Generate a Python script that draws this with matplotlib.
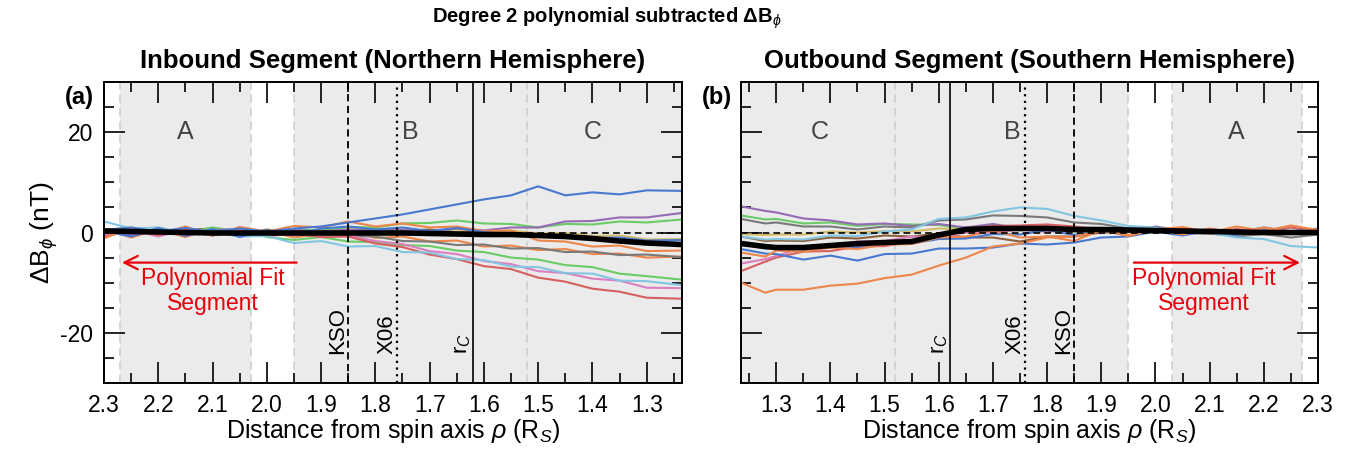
"""Degree 2 polynomial subtracted dB_phi, inbound and outbound segments."""

import matplotlib

matplotlib.use("Agg")

import matplotlib.pyplot as plt
from matplotlib.ticker import MultipleLocator


# seaborn "muted" colours used for the individual orbits
BLUE = "#4878d0"
ORANGE = "#ee854a"
GREEN = "#6acc64"
RED = "#d65f5f"
PURPLE = "#956cb4"
BROWN = "#8c613c"
PINK = "#dc7ec0"
GRAY = "#797979"
GOLD = "#d5bb67"
LIGHTBLUE = "#82c6e2"

# ---- inbound segment (panel a) ----
rho_in = [2.30, 2.25, 2.20, 2.15, 2.10, 2.05, 2.00, 1.95, 1.90, 1.85, 1.80,
          1.75, 1.70, 1.65, 1.60, 1.55, 1.50, 1.45, 1.40, 1.35, 1.30, 1.235]

in_blue_hi = [0.5, 1.0, 0.2, 0.9, 0.1, 0.8, 0.2, 0.8, 1.2, 2.0, 2.8,
              3.6, 4.6, 5.6, 6.6, 7.4, 9.2, 7.4, 8.0, 7.6, 8.4, 8.3]
in_blue = [0.3, -0.8, 0.9, -0.6, 0.7, -0.9, 0.4, -0.5, 0.8, 1.2, 0.6,
           1.0, 0.3, 0.9, 0.1, -0.5, -0.9, -0.4, -1.1, -1.0, -1.6, -1.5]
in_orange_1 = [-1.2, 1.0, -0.4, 1.2, -0.6, 1.1, 0.2, 1.3, 1.0, 2.2, 1.2,
               1.8, 1.0, 1.2, 0.3, 0.4, -1.6, -1.8, -2.8, -2.6, -3.7, -3.6]
in_orange_2 = [0.8, -1.0, 0.6, -0.9, 0.9, -0.7, 0.3, -1.0, -0.2, 0.5, -1.1,
               -0.8, -1.8, -1.6, -2.8, -2.6, -3.5, -3.3, -4.3, -4.2, -5.0, -4.8]
in_green_lo = [0.2, 0.8, -0.6, 0.5, -0.6, 0.6, -0.9, -1.5, -0.9, -1.8, -1.9,
               -2.5, -2.7, -3.6, -3.9, -5.0, -5.4, -6.5, -6.9, -8.2, -8.7, -9.4]
in_green_hi = [0.6, -0.5, 0.9, -0.1, 1.0, 0.2, -0.4, 0.6, 0.4, 1.1, 1.0,
               1.8, 1.9, 2.4, 1.8, 1.7, 1.0, 1.7, 1.6, 2.2, 2.0, 2.6]
in_red = [-0.9, 0.5, -0.5, 0.6, -0.6, 0.4, -0.7, -0.3, -0.9, -0.8, -2.2,
          -2.9, -4.4, -5.3, -6.7, -7.3, -9.0, -9.8, -11.2, -11.8, -13.0, -13.2]
in_purple = [0.6, -0.5, 0.8, -0.7, 0.5, 0.7, -0.6, 0.5, 0.2, 0.6, 0.3,
             0.5, 0.2, 0.8, 0.4, 1.0, 1.0, 2.2, 2.3, 3.0, 3.0, 3.9]
in_brown = [0.4, 0.7, -0.6, 0.5, 0.8, -0.5, 0.6, -0.2, 0.4, 0.2, 0.6,
            0.3, 0.6, 0.0, 0.2, -0.5, -0.3, -1.0, -0.8, -1.7, -1.8, -2.4]
in_pink = [-0.6, 0.5, -0.8, 0.6, -0.5, 0.4, -0.6, -0.2, -0.8, -0.6, -1.7,
           -2.3, -3.7, -4.3, -5.7, -6.3, -7.7, -8.1, -9.2, -9.6, -11.0, -11.1]
in_gray = [0.4, -0.7, 0.6, -0.5, 0.7, -0.6, 0.5, -0.4, -0.1, -0.7, -0.8,
           -1.7, -1.8, -2.5, -2.4, -3.2, -3.1, -3.9, -3.8, -4.5, -4.4, -4.9]
in_gold = [0.6, 0.9, -0.5, 0.8, -0.2, 0.7, -0.4, 0.6, 0.3, 0.7, 0.4,
           0.6, 0.3, 0.6, 0.1, 0.4, -0.2, -0.1, -0.7, -0.6, -1.4, -1.3]
in_lightblue = [2.2, 0.8, 1.0, -0.1, 0.1, -0.8, -0.7, -2.1, -1.7, -2.8, -2.7,
                -3.9, -4.0, -5.3, -5.5, -6.8, -6.9, -8.1, -8.2, -9.6, -9.7, -10.5]
in_mean = [0.3, 0.2, 0.1, 0.0, -0.1, -0.1, -0.1, -0.1, -0.1, -0.1, -0.1,
           -0.1, -0.2, -0.3, -0.4, -0.4, -0.6, -0.8, -1.2, -1.7, -2.1, -2.4]

# ---- outbound segment (panel b) ----
rho_out = [1.235, 1.28, 1.30, 1.35, 1.40, 1.45, 1.50, 1.55, 1.60, 1.65, 1.70, 1.75,
           1.80, 1.85, 1.90, 1.95, 2.00, 2.05, 2.10, 2.15, 2.20, 2.25, 2.30]

out_orange_lo = [-10.0, -12.0, -11.4, -11.4, -10.6, -10.2, -9.1, -8.4, -6.6, -5.0, -2.8, -2.2,
                 -1.0, -0.8, 0.4, -0.5, 0.7, -0.4, 0.8, -0.1, 1.0, 0.1, 0.7]
out_orange = [-4.0, -4.8, -3.6, -3.8, -3.0, -3.3, -2.4, -2.3, -1.0, -0.8, 0.4, -1.0,
              -0.8, -1.7, 0.5, -0.7, 0.6, 1.1, 0.0, 1.2, 0.3, 1.4, 0.5]
out_purple = [5.2, 4.3, 4.0, 2.8, 2.4, 1.6, 1.8, 1.3, 1.7, 1.0, 1.7, 0.8,
              1.4, 0.6, 0.8, 0.2, 1.2, 0.3, 0.4, 0.3, 0.2, 0.1, 0.4]
out_green = [3.4, 2.6, 2.7, 1.8, 2.0, 1.3, 1.7, 1.6, 1.5, 0.8, 1.4, 0.6,
             0.8, 0.2, 0.4, 0.3, 0.0, 0.1, -0.2, 0.0, -0.1, -0.1, 0.0]
out_gray = [2.7, 1.8, 2.0, 1.2, 1.2, 0.6, 1.2, 1.0, 2.4, 2.6, 3.4, 3.3,
            3.0, 2.0, 1.7, 0.8, 0.6, -0.2, -0.2, -0.8, -0.3, -1.0, -0.4]
out_lightblue = [-0.8, -1.4, -1.3, -1.4, -0.6, -0.7, 0.2, 0.6, 2.7, 3.0, 4.2, 5.0,
                 4.7, 3.3, 2.4, 1.3, 1.0, 0.0, -0.1, -1.0, -1.3, -2.7, -3.0]
out_blue = [-2.3, -3.2, -3.0, -3.4, -2.8, -3.0, -2.3, -2.2, -1.3, -1.2, -0.3, -0.4,
            0.5, -0.5, 0.4, -0.6, 0.5, -0.4, 0.7, 0.0, 1.0, 0.2, 0.8]
out_blue_lo = [-3.3, -4.2, -4.3, -5.4, -4.6, -5.6, -4.3, -4.2, -3.2, -3.2, -3.0, -2.2,
               -2.4, -2.0, -1.0, -0.8, 0.2, -0.6, 0.4, -0.5, 0.6, -0.2, 0.7]
out_pink = [-6.2, -5.3, -4.7, -3.0, -2.8, -1.8, -1.7, -0.8, -1.0, 0.0, 0.0, 0.6,
            0.1, 0.8, 0.0, 0.7, 0.8, 0.6, 0.0, 0.2, 0.1, 0.0, -0.1]
out_gold = [-0.3, -0.5, -0.4, -0.4, 0.2, 0.0, 0.3, 0.2, 0.8, 0.6, 1.2, 0.4,
            1.1, 0.3, 0.9, 0.1, 0.6, -0.2, 0.5, -0.4, 0.4, -0.3, 0.5]
out_brown = [-0.8, -1.7, -1.6, -1.7, -1.0, -1.2, -0.6, -0.8, -0.2, -1.0, -1.0, -1.8,
             -0.8, -0.8, 0.0, 0.1, 0.0, 0.2, -0.1, 0.0, -0.2, -0.2, -0.1]
out_red = [-7.7, -5.8, -5.0, -3.8, -3.7, -2.8, -2.7, -1.8, -0.7, 0.7, 1.3, 1.4,
           1.6, 1.2, 0.6, 0.7, 0.0, 0.8, -0.2, 0.7, 0.0, 1.0, 0.2]
out_mean = [-2.2, -2.8, -3.0, -3.0, -2.6, -2.2, -2.0, -1.8, -0.5, 0.6, 0.8, 0.8,
            0.8, 0.6, 0.6, 0.5, 0.4, 0.3, 0.2, 0.1, 0.0, 0.0, 0.0]

# region edges (A, B, C) and marked distances
REGION_EDGES = [2.27, 2.03, 1.95, 1.52]
REGION_LETTERS = ["A", "B", "C"]
KSO_RHO = 1.85
X06_RHO = 1.76
RC_RHO = 1.62
SHADE = "#ebebeb"


def draw_panel(axis, rho, traces, mean, x_limits, letter_x):
    """Shading, orbit traces, mean line and markers for one segment."""

    axis.axvspan(REGION_EDGES[0], REGION_EDGES[1], color=SHADE, lw=0, zorder=0)
    axis.axvspan(REGION_EDGES[2], 1.0, color=SHADE, lw=0, zorder=0)
    for edge in REGION_EDGES:
        axis.axvline(edge, color="#cfcfcf", ls=(0, (5, 3)), lw=1.2, zorder=1)

    for values, colour in traces:
        axis.plot(rho, values, color=colour, lw=1.5, zorder=2)

    axis.axhline(0, color="black", ls=(0, (4, 2.5)), lw=1.2, zorder=3)
    axis.plot(rho, mean, color="black", lw=4, zorder=4,
              solid_capstyle="butt")

    axis.axvline(KSO_RHO, color="black", ls=(0, (4, 2.5)), lw=1.3, zorder=5)
    axis.axvline(X06_RHO, color="black", ls=(0, (1, 2)), lw=1.6, zorder=5)
    axis.axvline(RC_RHO, color="black", ls="-", lw=1.2, zorder=5)

    for label, xpos in zip(["KSO", "X06", "r$_C$"], [KSO_RHO, X06_RHO, RC_RHO]):
        axis.text(xpos, -24.2, label, rotation=90, ha="right", va="bottom",
                  fontsize=16, zorder=6)

    for letter, xpos in zip(REGION_LETTERS, letter_x):
        axis.text(xpos, 20, letter, color="#444444", fontsize=18,
                  ha="center", va="center", zorder=6)

    axis.set_xlim(*x_limits)
    axis.set_ylim(-30, 30)
    axis.xaxis.set_major_locator(MultipleLocator(0.1))
    axis.xaxis.set_minor_locator(MultipleLocator(0.05))
    axis.yaxis.set_major_locator(MultipleLocator(20))
    axis.yaxis.set_minor_locator(MultipleLocator(5))
    axis.tick_params(which="both", direction="in", top=True, right=True,
                     labelsize=16.5, width=1.2)
    axis.tick_params(which="major", length=15, pad=8)
    axis.tick_params(which="minor", length=7.5)
    for spine in axis.spines.values():
        spine.set_linewidth(1.4)
    axis.set_xlabel(r"Distance from spin axis $\rho$ (R$_S$)", fontsize=18,
                    labelpad=0)


def add_fit_arrow(axis, start, end, text_x):
    """Red arrow marking the polynomial fit segment."""

    axis.annotate("", xy=(end, -6), xytext=(start, -6),
                  arrowprops=dict(arrowstyle="->", color="#e8000b", lw=1.6,
                                  mutation_scale=24),
                  zorder=6)
    axis.text(text_x, -11.6, "Polynomial Fit\nSegment", color="#e8000b",
              fontsize=16.5, ha="center", va="center", linespacing=1.1,
              zorder=6)


def main():
    plt.rcParams.update({
        "font.family": ["Liberation Sans", "DejaVu Sans"],
        "mathtext.fontset": "custom",
        "mathtext.rm": "Liberation Sans",
        "mathtext.it": "Liberation Sans:italic",
        "mathtext.bf": "Liberation Sans:bold",
        "axes.unicode_minus": False,
    })

    figure = plt.figure(figsize=(13.48, 4.55), dpi=100)
    ax_in = figure.add_axes([104 / 1348, 72 / 455, 578 / 1348, 301 / 455])
    ax_out = figure.add_axes([741 / 1348, 72 / 455, 577 / 1348, 301 / 455])

    traces_in = [
        (in_orange_2, ORANGE), (in_gold, GOLD), (in_brown, BROWN),
        (in_gray, GRAY), (in_green_lo, GREEN), (in_green_hi, GREEN),
        (in_purple, PURPLE), (in_pink, PINK), (in_red, RED),
        (in_lightblue, LIGHTBLUE), (in_orange_1, ORANGE), (in_blue, BLUE),
        (in_blue_hi, BLUE),
    ]
    traces_out = [
        (out_gold, GOLD), (out_brown, BROWN), (out_green, GREEN),
        (out_purple, PURPLE), (out_gray, GRAY), (out_red, RED),
        (out_pink, PINK), (out_lightblue, LIGHTBLUE), (out_blue, BLUE),
        (out_blue_lo, BLUE), (out_orange, ORANGE), (out_orange_lo, ORANGE),
    ]

    draw_panel(ax_in, rho_in, traces_in, in_mean, (2.3, 1.235),
               [2.15, 1.735, 1.40])
    draw_panel(ax_out, rho_out, traces_out, out_mean, (1.235, 2.3),
               [2.15, 1.735, 1.38])

    add_fit_arrow(ax_in, 1.94, 2.272, 2.10)
    add_fit_arrow(ax_out, 1.955, 2.272, 2.09)

    ax_in.set_ylabel(r"$\Delta$B$_\phi$ (nT)", fontsize=19, labelpad=0)
    ax_out.tick_params(labelleft=False)

    ax_in.set_title("Inbound Segment (Northern Hemisphere)", fontsize=18.5,
                    fontweight="bold", pad=10)
    ax_out.set_title("Outbound Segment (Southern Hemisphere)", fontsize=18.5,
                     fontweight="bold", pad=10)

    ax_in.text(-0.042, 0.95, "(a)", transform=ax_in.transAxes, fontsize=17,
               fontweight="bold", ha="center", va="center")
    ax_out.text(-0.042, 0.95, "(b)", transform=ax_out.transAxes, fontsize=17,
                fontweight="bold", ha="center", va="center")

    figure.text(607 / 1348, 1 - 18 / 455,
                r"Degree 2 polynomial subtracted $\mathbf{\Delta B}_\phi$",
                fontsize=14.5, fontweight="bold", ha="center", va="center")

    figure.savefig("out.png", dpi=100)
    plt.close(figure)


if __name__ == "__main__":
    main()
